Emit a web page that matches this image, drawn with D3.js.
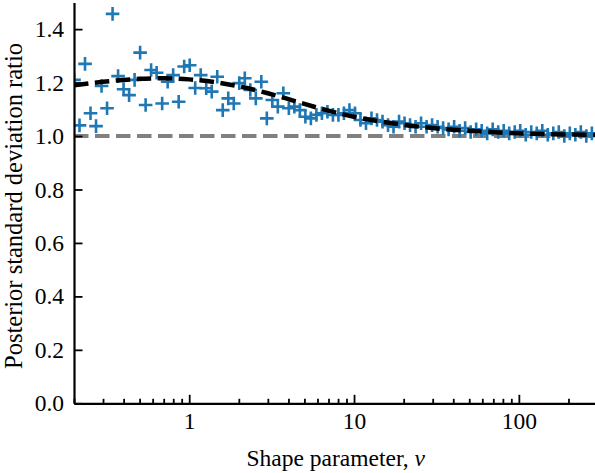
<!DOCTYPE html>
<html>
<head>
<meta charset="utf-8">
<script src="https://cdn.jsdelivr.net/npm/d3@7"></script>
<style>
  body { margin: 0; background: white; }
  #container { width: 595px; height: 473px; }
  text { font-family: "Liberation Serif", "Times New Roman", serif; }
</style>
</head>
<body>
<div id="container"></div>
<script>
var width = 595,
    height = 473;

// shape parameter values of the simulated points
var nuValues = [0.2, 0.216, 0.2333, 0.2519, 0.2721, 0.2939, 0.3174, 0.3428, 0.3702, 0.3998,
    0.4318, 0.4663, 0.5036, 0.5439, 0.5874, 0.6344, 0.6852, 0.74, 0.7992, 0.8631,
    0.9322, 1.0068, 1.0873, 1.1743, 1.2682, 1.3697, 1.4793, 1.5976, 1.7254, 1.8635,
    2.0125, 2.1735, 2.3474, 2.5352, 2.738, 2.9571, 3.1936, 3.4491, 3.7251, 4.0231,
    4.3449, 4.6925, 5.0679, 5.4733, 5.9112, 6.3841, 6.8948, 7.4464, 8.0421, 8.6855,
    9.3803, 10.131, 10.941, 11.817, 12.762, 13.783, 14.885, 16.076, 17.362, 18.751,
    20.251, 21.872, 23.621, 25.511, 27.552, 29.756, 32.136, 34.707, 37.484, 40.483,
    43.721, 47.219, 50.997, 55.076, 59.482, 64.241, 69.38, 74.931, 80.925, 87.399,
    94.391, 101.94, 110.1, 118.91, 128.42, 138.69, 149.79, 161.77, 174.71, 188.69,
    203.78, 220.09, 237.69, 256.71, 277.24, 299.42];

// posterior standard deviation ratio
var ratioValues = [1.21, 1.04, 1.27, 1.085, 1.037, 1.187, 1.104, 1.457, 1.224, 1.175,
    1.153, 1.21, 1.312, 1.116, 1.247, 1.237, 1.122, 1.203, 1.228, 1.128,
    1.26, 1.265, 1.18, 1.228, 1.179, 1.166, 1.222, 1.097, 1.141, 1.122,
    1.198, 1.216, 1.172, 1.141, 1.203, 1.066, 1.135, 1.11, 1.16, 1.104,
    1.11, 1.097, 1.072, 1.066, 1.079, 1.085, 1.091, 1.079, 1.079, 1.085,
    1.097, 1.085, 1.06, 1.048, 1.066, 1.06, 1.054, 1.041, 1.035, 1.054,
    1.048, 1.041, 1.035, 1.048, 1.035, 1.041, 1.035, 1.03, 1.025, 1.035,
    1.02, 1.03, 1.015, 1.025, 1.02, 1.01, 1.025, 1.015, 1.02, 1.01,
    1.015, 1.02, 1.005, 1.015, 1.01, 1.02, 1.005, 1.01, 1.015, 1.0,
    1.01, 1.005, 1.015, 1.0, 1.01, 1.005];

// theoretical curve (black dashed)
var curveNu = [0.2, 0.3, 0.4, 0.5, 0.7, 1, 1.5, 2, 3, 4, 5, 7, 10, 15, 20, 30, 50, 100, 200, 300];
var curveRatio = [1.19, 1.203, 1.21, 1.214, 1.216, 1.212, 1.2, 1.186, 1.16, 1.138,
    1.12, 1.095, 1.072, 1.053, 1.042, 1.03, 1.02, 1.01, 1.006, 1.004];

var xMajorTicks = [1, 10, 100];
var xMinorTicks = [0.2, 0.3, 0.4, 0.5, 0.6, 0.7, 0.8, 0.9, 2, 3, 4, 5, 6, 7, 8, 9,
    20, 30, 40, 50, 60, 70, 80, 90, 200, 300];
var yTicks = [0, 0.2, 0.4, 0.6, 0.8, 1.0, 1.2, 1.4];

var plotLeft = 74, plotRight = 597.5, plotTop = 2.4, plotBottom = 403.3;

var svg = d3.select("#container")
    .append("svg")
    .attr("width", width)
    .attr("height", height);

var x = d3.scaleLog().domain([0.2, 300]).range([plotLeft, plotRight]);
var y = d3.scaleLinear().domain([0, 1.5]).range([plotBottom, plotTop]);

svg.append("clipPath")
    .attr("id", "plotClip")
    .append("rect")
    .attr("x", plotLeft)
    .attr("y", -20)
    .attr("width", plotRight - plotLeft)
    .attr("height", plotBottom + 20);

var plotG = svg.append("g").attr("clip-path", "url(#plotClip)");

// reference line at ratio 1
plotG.append("line")
    .attr("x1", plotLeft)
    .attr("x2", plotRight)
    .attr("y1", y(1))
    .attr("y2", y(1))
    .attr("stroke", "#808080")
    .attr("stroke-width", 4)
    .attr("stroke-dasharray", "14.5,6.5");

// simulated points as plus markers
plotG.selectAll("path.pt")
    .data(nuValues)
    .enter()
    .append("path")
    .attr("class", "pt")
    .attr("d", "M-6.8,0H6.8M0,-6.8V6.8")
    .attr("transform", function (d, i) {
        return "translate(" + x(d) + "," + y(ratioValues[i]) + ")";
    })
    .attr("stroke", "#1f77b4")
    .attr("stroke-width", 2.6)
    .attr("fill", "none");

var line = d3.line()
    .x(function (d) { return x(d[0]); })
    .y(function (d) { return y(d[1]); })
    .curve(d3.curveMonotoneX);

plotG.append("path")
    .datum(curveNu.map(function (d, i) { return [d, curveRatio[i]]; }))
    .attr("d", line)
    .attr("fill", "none")
    .attr("stroke", "black")
    .attr("stroke-width", 4.5)
    .attr("stroke-dasharray", "14.5,6.5");

// axes, ticks pointing inward
svg.append("g")
    .attr("transform", "translate(0," + plotBottom + ")")
    .call(d3.axisBottom(x).tickValues(xMajorTicks).tickFormat(d3.format("d"))
        .tickSizeInner(-8.5).tickSizeOuter(0).tickPadding(9));

svg.append("g")
    .attr("transform", "translate(0," + plotBottom + ")")
    .call(d3.axisBottom(x).tickValues(xMinorTicks).tickFormat("")
        .tickSizeInner(-4.5).tickSizeOuter(0))
    .select(".domain").remove();

svg.append("g")
    .attr("transform", "translate(" + plotLeft + ",0)")
    .call(d3.axisLeft(y).tickValues(yTicks).tickFormat(d3.format(".1f"))
        .tickSizeInner(-8.5).tickSizeOuter(0).tickPadding(10));

svg.selectAll(".domain")
    .attr("stroke", "black")
    .attr("stroke-width", 2.2);

svg.selectAll(".tick line")
    .attr("stroke", "black")
    .attr("stroke-width", 1.8);

svg.selectAll(".tick text")
    .attr("fill", "black")
    .style("font-size", "23.5px")
    .style("font-family", "'Liberation Serif', serif");

svg.append("text")
    .attr("x", (plotLeft + plotRight) / 2)
    .attr("y", 466)
    .attr("text-anchor", "middle")
    .style("font-size", "23.5px")
    .html("Shape parameter, <tspan font-style='italic'>ν</tspan>");

svg.append("text")
    .attr("transform", "translate(22,206) rotate(-90)")
    .attr("text-anchor", "middle")
    .style("font-size", "24.5px")
    .text("Posterior standard deviation ratio");
</script>
</body>
</html>
